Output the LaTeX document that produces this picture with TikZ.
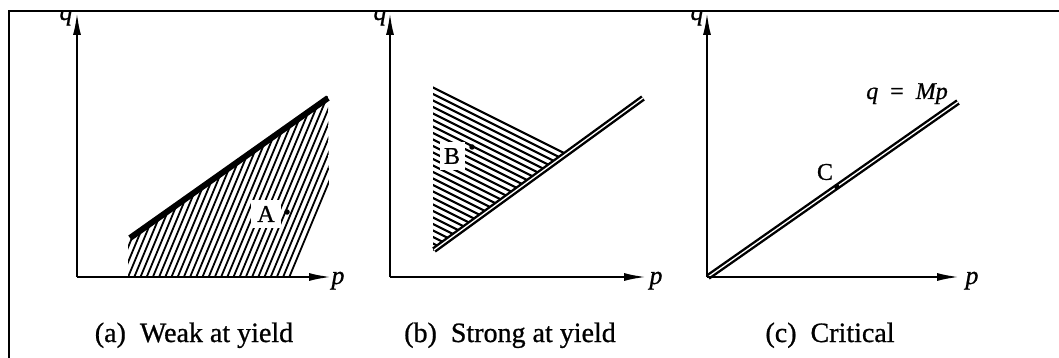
\documentclass[tikz,border=0pt]{standalone}
\usepackage{fontspec}
\setmainfont{Liberation Serif}[FakeBold=0.8]
\usetikzlibrary{arrows.meta}
\begin{document}
\begin{tikzpicture}[x=1pt,y=-1pt,
  axis/.style={line width=2pt,-{Latex[length=22pt,width=8pt]}},
  hatchline/.style={line width=1.8pt},
  dbl/.style={line width=2.4pt,double=white,double distance=1.3pt},
  thickline/.style={line width=6pt},
  lbl/.style={font=\fontsize{24}{26}\selectfont,inner sep=0pt},
  axlbl/.style={font=\fontsize{26}{28}\selectfont\itshape,inner sep=0pt,anchor=base},
  caplbl/.style={font=\fontsize{28}{30}\selectfont,inner sep=0pt,anchor=base},
  framelin/.style={line width=2.4pt},
  ptdot/.style={circle,fill=black,inner sep=0pt,minimum size=5.5pt}]
\useasboundingbox (0,0) rectangle (1059,358);

% ---------- panel (a) ----------
\coordinate (oa) at (77,277);
\coordinate (ya) at (77,13);
\coordinate (xa) at (331,277);
\coordinate (la1) at (130,238);
\coordinate (la2) at (328,98);
\begin{scope}
  \clip (128,238) -- (328,96) -- (329,193) -- (293,277) -- (128,277) -- cycle;
  \foreach \i in {0,...,36} {\draw[hatchline] ({95+6.2*\i},282) -- ++(90,-216);}
\end{scope}
\draw[thickline] (la1) -- (la2);
\node[lbl,fill=white,minimum width=30pt,minimum height=28pt] (A) at (266,214) {A};
\node[ptdot] (dA) at (287,212) {};
\draw[axis] (oa) -- (ya);
\draw[axis] (oa) -- (xa);
\node[axlbl] (pa) at (338,284) {p};
\node[caplbl] (capa) at (194,342) {(a)\hspace{0.5em}Weak at yield};

% ---------- panel (b) ----------
\coordinate (ob) at (390,277);
\coordinate (yb) at (390,13);
\coordinate (xb) at (646,277);
\coordinate (lb1) at (434,250);
\coordinate (lb2) at (643,98);
\begin{scope}
  \clip (433,84) -- (569,152) -- (433,251) -- cycle;
  \foreach \i in {0,...,26} {\draw[hatchline,line width=2.1pt] (430,{86+6.5*\i}) -- ++(200,100);}
\end{scope}
\draw[dbl] (lb1) -- (lb2);
\node[lbl,fill=white,minimum width=25pt,minimum height=28pt] (B) at (452,156) {B};
\node[ptdot] (dB) at (472,147) {};
\draw[axis] (ob) -- (yb);
\draw[axis] (ob) -- (xb);
\node[axlbl] (pb) at (656,284) {p};
\node[caplbl] (capb) at (510,342) {(b)\hspace{0.5em}Strong at yield};

% ---------- panel (c) ----------
\coordinate (oc) at (707,277);
\coordinate (yc) at (707,13);
\coordinate (xc) at (959,277);
\coordinate (lc1) at (708,277);
\coordinate (lc2) at (958,102);
\draw[dbl] (lc1) -- (lc2);
\node[ptdot] (dC) at (837,187) {};
\node[lbl] (C) at (825,172) {C};
\node[lbl,anchor=base] (eq) at (907,99) {\itshape q\hspace{12pt}\upshape=\hspace{12pt}\itshape Mp};
\draw[axis] (oc) -- (yc);
\draw[axis] (oc) -- (xc);
\node[axlbl] (pc) at (972,284) {p};
\node[caplbl] (capc) at (830,342) {(c)\hspace{0.5em}Critical};

% ---------- q labels (cut by frame) ----------
\begin{scope}
  \clip (0,12) rectangle (1059,358);
  \node[axlbl] (qa) at (66,20) {q};
  \node[axlbl] (qb) at (380,20) {q};
  \node[axlbl] (qc) at (697,20) {q};
\end{scope}

% ---------- frame ----------
\coordinate (f1) at (9,358);
\coordinate (f2) at (9,11);
\coordinate (f3) at (1059,11);
\draw[framelin] (f1) -- (f2) -- (f3);
\end{tikzpicture}
\end{document}
